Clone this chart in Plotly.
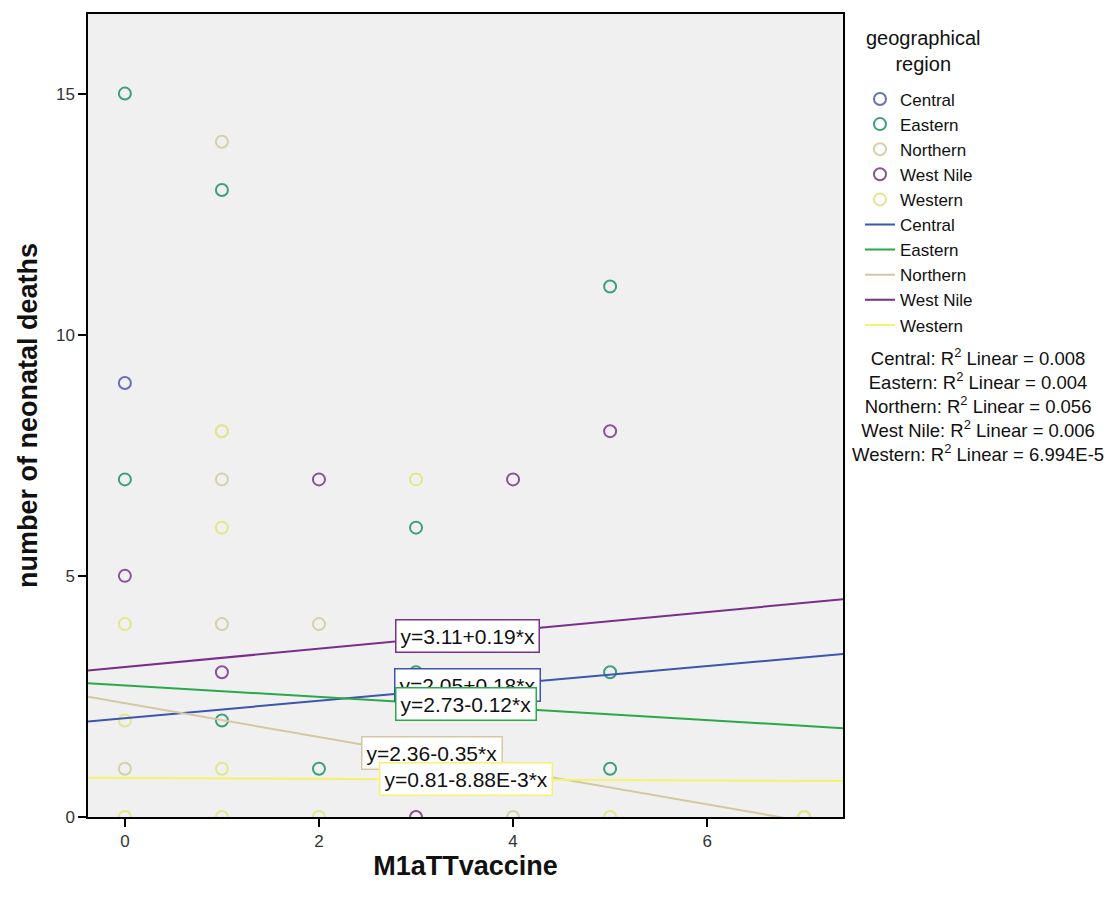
import plotly.graph_objects as go

# ---------------- data ----------------
regions = ["Central", "Eastern", "Northern", "West Nile", "Western"]

central_x = [0]
central_y = [9]
eastern_x = [0, 0, 1, 1, 2, 3, 3, 5, 5, 5]
eastern_y = [15, 7, 13, 2, 1, 6, 3, 11, 3, 1]
northern_x = [0, 1, 1, 1, 1, 2, 3, 4, 7]
northern_y = [1, 14, 8, 7, 4, 4, 0, 0, 0]
westnile_x = [0, 1, 2, 4, 5, 3]
westnile_y = [5, 3, 7, 7, 8, 0]
western_x = [0, 0, 0, 1, 1, 1, 1, 2, 3, 5, 7]
western_y = [4, 2, 0, 8, 6, 1, 0, 0, 7, 0, 0]

fit_intercept = [2.05, 2.73, 2.36, 3.11, 0.81]
fit_slope = [0.18, -0.12, -0.35, 0.19, -0.00888]
fit_labels = ["y=2.05+0.18*x", "y=2.73-0.12*x", "y=2.36-0.35*x",
              "y=3.11+0.19*x", "y=0.81-8.88E-3*x"]
r2_values = ["0.008", "0.004", "0.056", "0.006", "6.994E-5"]

x_range = [-0.38, 7.4]
y_range = [0, 16.65]

# ---------------- style ----------------
line_colors = ["#3d55b0", "#2aa84a", "#d4c8a2", "#7a2e8c", "#f5f26e"]
marker_colors = ["#6a70b0", "#3f9f78", "#d6d0a8", "#8c5296", "#e4e68c"]
label_pos = {  # (x, y) in data units for the equation boxes
    "Central": (3.53, 2.74),
    "Eastern": (3.52, 2.34),
    "Northern": (3.16, 1.32),
    "West Nile": (3.53, 3.76),
    "Western": (3.52, 0.78),
}
FONT = "Liberation Sans, Arial, sans-serif"

xs = [central_x, eastern_x, northern_x, westnile_x, western_x]
ys = [central_y, eastern_y, northern_y, westnile_y, western_y]

fig = go.Figure()

for name, x, y, c in zip(regions, xs, ys, marker_colors):
    fig.add_trace(go.Scatter(
        x=x, y=y, mode="markers", name=name,
        marker=dict(symbol="circle-open", size=12, color=c, line=dict(width=2, color=c)),
    ))

for name, b0, b1, c in zip(regions, fit_intercept, fit_slope, line_colors):
    lx = list(x_range)
    ly = [b0 + b1 * v for v in lx]
    fig.add_trace(go.Scatter(
        x=lx, y=ly, mode="lines", name=name,
        line=dict(color=c, width=2),
    ))

# equation labels (draw order: Central under Eastern, Northern under Western)
for idx in [3, 0, 1, 2, 4]:
    name = regions[idx]
    px, py = label_pos[name]
    fig.add_annotation(
        x=px, y=py, xref="x", yref="y", text=fit_labels[idx], showarrow=False,
        font=dict(family=FONT, size=21, color="#111111"),
        bgcolor="white", bordercolor=line_colors[idx], borderwidth=1.5, borderpad=4,
    )

# legend title
fig.add_annotation(
    x=1.107, y=(817 - 23) / 805, xref="paper", yref="paper", xanchor="center", yanchor="top",
    text="geographical<br>region", showarrow=False, align="center",
    font=dict(family=FONT, size=20, color="#111111"),
)

r2_text = "<br>".join(f"{n}: R<sup>2</sup> Linear = {v}" for n, v in zip(regions, r2_values))
fig.add_annotation(
    x=1.179, y=0.59, xref="paper", yref="paper", xanchor="center", yanchor="top",
    text=r2_text, showarrow=False, align="center",
    font=dict(family=FONT, size=18.5, color="#111111"),
)

fig.update_layout(
    width=1120, height=899,
    margin=dict(l=88, r=277, t=12, b=82),
    paper_bgcolor="white", plot_bgcolor="#f0f0f0",
    font=dict(family=FONT, color="#222222"),
    showlegend=True,
    legend=dict(
        x=1.0225, y=0.916, xanchor="left", yanchor="top",
        font=dict(family=FONT, size=17, color="#111111"),
        bgcolor="rgba(0,0,0,0)", itemwidth=30,
    ),
    xaxis=dict(
        range=x_range, tickvals=[0, 2, 4, 6], ticks="outside", ticklen=8,
        tickcolor="black", tickwidth=1.5,
        showline=True, mirror=True, linecolor="black", linewidth=1.5,
        showgrid=False, zeroline=False,
        tickfont=dict(family=FONT, size=17, color="#333333"),
        title=dict(text="<b>M1aTTvaccine</b>", standoff=1,
                   font=dict(family=FONT, size=27, color="#111111")),
    ),
    yaxis=dict(
        range=y_range, tickvals=[0, 5, 10, 15], ticks="outside", ticklen=8,
        tickcolor="black", tickwidth=1.5,
        showline=True, mirror=True, linecolor="black", linewidth=1.5,
        showgrid=False, zeroline=False,
        tickfont=dict(family=FONT, size=17, color="#333333"),
        title=dict(text="<b>number of neonatal deaths</b>", standoff=10,
                   font=dict(family=FONT, size=27, color="#111111")),
    ),
)

fig.write_html("out.html")
